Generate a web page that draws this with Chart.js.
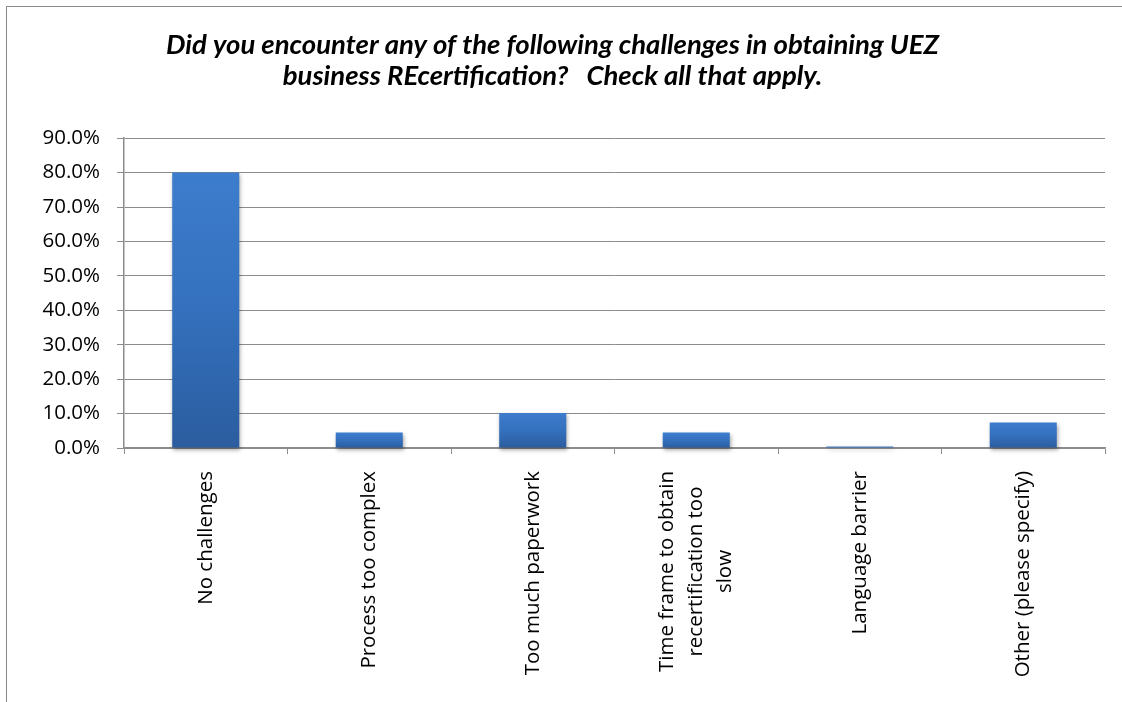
<!DOCTYPE html>
<html>
<head>
<meta charset="utf-8">
<title>UEZ business REcertification challenges</title>
<script src="https://cdn.jsdelivr.net/npm/chart.js@4.4.0/dist/chart.umd.min.js"></script>
<style>
  html, body { margin: 0; padding: 0; background: #fff; }
  #frame { position: relative; width: 1122px; height: 702px; overflow: hidden; }
  /* outer chart border (left and top edges are what shows) */
  #frame::before {
    content: '';
    position: absolute;
    left: 6px; top: 6px;
    width: 1300px; height: 900px;
    border-left: 1.5px solid #8a8a8a;
    border-top: 1.5px solid #8a8a8a;
  }
  canvas { position: absolute; left: 0; top: 0; }
</style>
</head>
<body>
<div id="frame">
  <canvas id="challengesChart" width="1122" height="702"></canvas>
</div>
<script>
// Survey answers (share of respondents, %)
const categories = [
    'No challenges',
    'Process too complex',
    'Too much paperwork',
    ['Time frame to obtain', 'recertification too', 'slow'],
    'Language barrier',
    'Other (please specify)'
];
const responseShare = [80.0, 4.5, 10.2, 4.5, 0.4, 7.4];
const yMax = 90;
const yStep = 10;
const titleLines = [
    'Did you encounter any of the following challenges in obtaining UEZ',
    'business REcertification?   Check all that apply.'
];

const gridGray = '#8c8c8c';
const labelFont = "'Open Sans', 'DejaVu Sans', sans-serif";
const labelSize = 20.5;

// Vertical gradient per bar, lighter at the top
function barFill(c) {
    const chart = c.chart;
    const y = chart.scales.y;
    if (!y || c.type !== 'data') return '#3571bf';
    const top = y.getPixelForValue(c.raw);
    const base = y.getPixelForValue(0);
    if (!isFinite(top) || !isFinite(base) || base - top < 1) return '#3a78c8';
    const g = chart.ctx.createLinearGradient(0, top, 0, base);
    g.addColorStop(0, '#3d7dcd');
    g.addColorStop(0.5, '#3470bd');
    g.addColorStop(1, '#2b5d9f');
    return g;
}

// Soft drop shadow under the bars
const barShadow = {
    id: 'barShadow',
    beforeDatasetsDraw(chart) {
        const ctx = chart.ctx;
        ctx.save();
        ctx.shadowColor = 'rgba(0, 0, 0, 0.35)';
        ctx.shadowBlur = 4;
        ctx.shadowOffsetX = 1;
        ctx.shadowOffsetY = 2;
    },
    afterDatasetsDraw(chart) {
        chart.ctx.restore();
    }
};

// Rotated category labels, lines centred inside each label block
const categoryLabels = {
    id: 'categoryLabels',
    afterDraw(chart) {
        const ctx = chart.ctx;
        const x = chart.scales.x;
        const startY = x.top + 23;
        const lineStep = 29;
        ctx.save();
        ctx.font = labelSize + 'px ' + labelFont;
        ctx.fillStyle = '#000';
        ctx.textAlign = 'center';
        ctx.textBaseline = 'middle';
        categories.forEach((label, i) => {
            const lines = Array.isArray(label) ? label : [label];
            const widest = Math.max(...lines.map(l => ctx.measureText(l).width));
            const px = x.getPixelForTick(i);
            ctx.save();
            ctx.translate(px, startY);
            ctx.rotate(-Math.PI / 2);
            lines.forEach((line, j) => {
                const offset = (j - (lines.length - 1) / 2) * lineStep;
                ctx.fillText(line, -widest / 2, offset);
            });
            ctx.restore();
        });
        ctx.restore();
    }
};

const chart = new Chart(document.getElementById('challengesChart').getContext('2d'), {
    type: 'bar',
    data: {
        labels: categories,
        datasets: [{
            data: responseShare,
            backgroundColor: barFill,
            borderWidth: 0,
            categoryPercentage: 1,
            barPercentage: 0.41,
            clip: false
        }]
    },
    options: {
        responsive: false,
        animation: false,
        layout: {
            padding: { left: 0, right: 17, top: 0, bottom: 0 }
        },
        plugins: {
            legend: { display: false },
            tooltip: { enabled: false },
            title: {
                display: true,
                text: titleLines,
                color: '#000',
                font: {
                    family: "Lato, 'Open Sans', sans-serif",
                    size: 27.5,
                    weight: 'bold',
                    style: 'italic',
                    lineHeight: 1.13
                },
                padding: { top: 29.5, bottom: 46.5 }
            }
        },
        scales: {
            x: {
                afterFit(scale) { scale.height = 254; },
                grid: {
                    drawOnChartArea: false,
                    drawTicks: true,
                    tickLength: 6,
                    color: gridGray,
                    offset: true
                },
                border: { color: gridGray, width: 1.5 },
                ticks: { display: false }
            },
            y: {
                min: 0,
                max: yMax,
                afterFit(scale) { scale.width = 124; },
                grid: {
                    color: gridGray,
                    lineWidth: 1,
                    tickLength: 7
                },
                border: { color: gridGray, width: 1.5 },
                ticks: {
                    stepSize: yStep,
                    padding: 17,
                    color: '#000',
                    font: { family: labelFont, size: labelSize },
                    callback: v => v.toFixed(1) + '%'
                }
            }
        }
    },
    plugins: [barShadow, categoryLabels]
});
</script>
</body>
</html>
